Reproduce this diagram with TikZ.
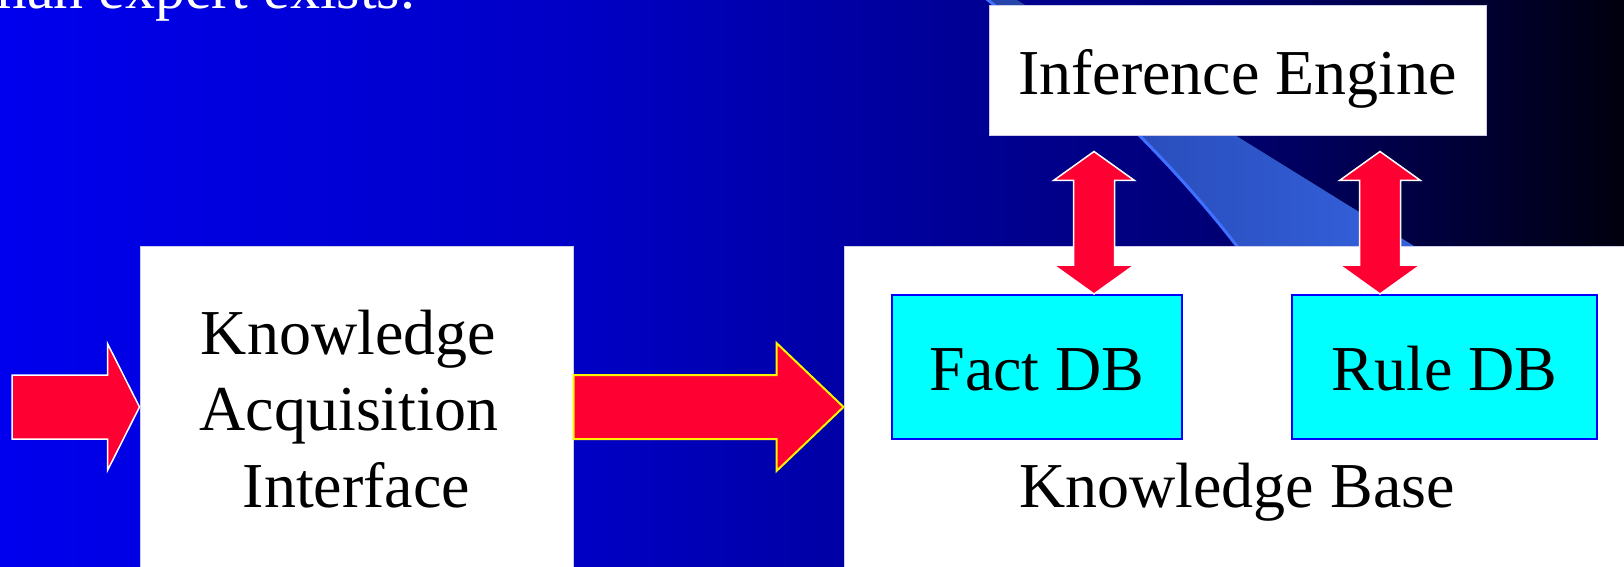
\documentclass[tikz,border=0pt]{standalone}
\usepackage{fontspec}
\setmainfont{Liberation Serif}
\usetikzlibrary{calc}

% background ramp, swoosh and element colours
\definecolor{bgA}{RGB}{0,0,238}
\definecolor{bgB}{RGB}{0,0,195}
\definecolor{bgC}{RGB}{0,0,120}
\definecolor{bgD}{RGB}{0,0,14}
\definecolor{swooshA}{RGB}{36,66,168}
\definecolor{swooshB}{RGB}{52,98,222}
\definecolor{swooshEdge}{RGB}{64,112,255}
\definecolor{arrowred}{RGB}{255,0,51}
\definecolor{boxedge}{RGB}{205,205,235}
\definecolor{dbfill}{RGB}{0,255,255}
\definecolor{dbedge}{RGB}{0,0,255}

% horizontal block arrow: style, tail, tip, shaft half-height, head half-height, head length
\newcommand{\hblockarrow}[6]{%
  \draw[#1] let \p1=(#2), \p2=(#3) in
    (\x1,\y2+#4) -- (\x2-#6,\y2+#4) -- (\x2-#6,\y2+#5) -- (\x2,\y2)
    -- (\x2-#6,\y2-#5) -- (\x2-#6,\y2-#4) -- (\x1,\y2-#4) -- cycle;}
% vertical double block arrow: style, top tip, bottom tip, shaft half-width, head half-width, head length
\newcommand{\vdblarrow}[6]{%
  \draw[#1] let \p1=(#2), \p2=(#3) in
    (\x1,\y1) -- (\x1+#5,\y1-#6) -- (\x1+#4,\y1-#6) -- (\x1+#4,\y2+#6)
    -- (\x1+#5,\y2+#6) -- (\x1,\y2) -- (\x1-#5,\y2+#6) -- (\x1-#4,\y2+#6)
    -- (\x1-#4,\y1-#6) -- (\x1-#5,\y1-#6) -- cycle;}

\begin{document}
\begin{tikzpicture}[x=0.5pt,y=-0.5pt,
  labelfont/.style={font=\fontsize{32}{38.25}\selectfont},
  whitebox/.style={draw=boxedge, line width=0.5pt, fill=white, inner sep=0pt,
    labelfont, text height=23.5pt, text depth=0pt},
  dbbox/.style={draw=dbedge, line width=1pt, fill=dbfill, inner sep=0pt,
    labelfont, text height=23.5pt, text depth=0pt},
  plaintext/.style={inner sep=0pt, labelfont, anchor=base},
  redarrow/.style={fill=arrowred, line width=0.75pt, line join=miter},
]
\useasboundingbox (0,0) rectangle (1624,567);
\clip (0,0) rectangle (1624,567);

% background: blue fading to near black towards the right
\fill[left color=bgA, right color=bgB] (0,0) rectangle (601,567);
\fill[left color=bgB, right color=bgC] (600,0) rectangle (1201,567);
\fill[left color=bgC, right color=bgD] (1200,0) rectangle (1624,567);

% decorative swoosh band with its bright leading edge
\fill[left color=swooshA, right color=swooshB]
  plot[domain=-5:250, samples=40] ({988+1.248*\x-0.000959*\x*\x},\x)
  -- (1420.5,250) -- (1009,-5) -- cycle;
\draw[swooshEdge, line width=1.5pt]
  plot[domain=-5:250, samples=40] ({988+1.248*\x-0.000959*\x*\x},\x);

% last line of the slide text, running off the top edge
\node[inner sep=0pt, font=\fontsize{30}{36}\selectfont, text=white, anchor=base west]
  (caption) at (-20,9) {man expert exists.};

% boxes
\node[whitebox, minimum width=248.5pt, minimum height=65pt] (ie) at (1237.5,71) {Inference Engine};
\node[whitebox, minimum width=216.5pt, minimum height=161pt] (kai) at (356.5,407) {};
\node[whitebox, minimum width=391pt, minimum height=161pt] (kb) at (1235,407) {};
\node[plaintext] (kailine1) at (348.5,354) {Knowledge};
\node[plaintext] (kailine2) at (349,430) {Acquisition};
\node[plaintext] (kailine3) at (356.5,507) {Interface};
\node[plaintext] (kblabel) at (1237,507) {Knowledge Base};
\node[dbbox, minimum width=145pt, minimum height=72pt] (fact) at (1037,367) {Fact DB};
\node[dbbox, minimum width=152.5pt, minimum height=72pt] (rule) at (1444.5,367) {Rule DB};

% arrow end points
\coordinate (src) at (12,407);
\coordinate (fbot) at ($(fact.north east)+(-89,0)$);
\coordinate (ftop) at ($(fbot |- ie.south)+(0,15)$);
\coordinate (rbot) at ($(rule.north west)+(89,0)$);
\coordinate (rtop) at ($(rbot |- ie.south)+(0,15)$);

% connectors
\hblockarrow{redarrow, draw=white}{src}{kai.west}{16pt}{31.75pt}{16pt}
\hblockarrow{redarrow, draw=yellow, line width=1pt}{kai.east}{kb.west}{16pt}{32pt}{33.5pt}
\vdblarrow{redarrow, draw=white}{ftop}{fbot}{10.25pt}{20.25pt}{14.5pt}
\vdblarrow{redarrow, draw=white}{rtop}{rbot}{10.25pt}{20.25pt}{14.5pt}
\end{tikzpicture}
\end{document}
